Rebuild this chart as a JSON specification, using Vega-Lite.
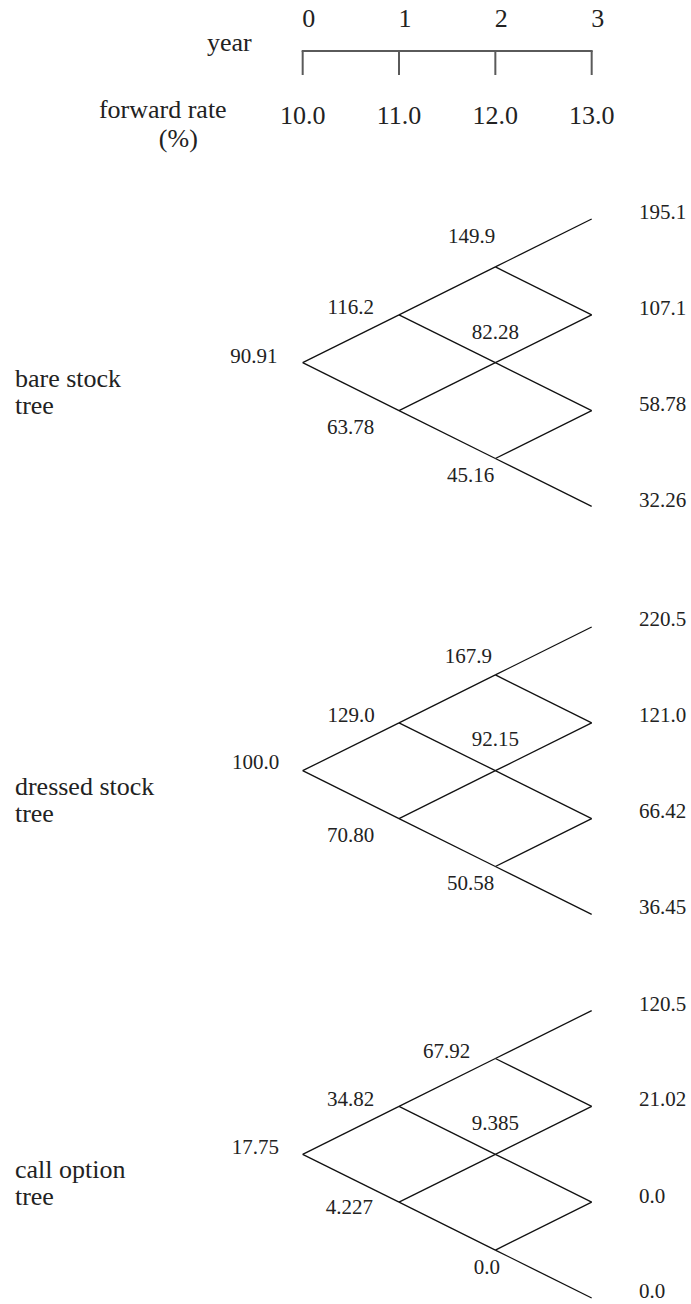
{
  "$schema": "https://vega.github.io/schema/vega-lite/v6.json",
  "padding": 0,
  "spacing": 0,
  "bounds": "flush",
  "background": "white",
  "config": {
    "view": {"stroke": null},
    "text": {"font": "Liberation Serif", "color": "#222222"}
  },
  "datasets": {
    "edges": [
      {"year": 0, "state": 0, "year2": 1, "state2": 1},
      {"year": 0, "state": 0, "year2": 1, "state2": -1},
      {"year": 1, "state": 1, "year2": 2, "state2": 2},
      {"year": 1, "state": 1, "year2": 2, "state2": 0},
      {"year": 1, "state": -1, "year2": 2, "state2": 0},
      {"year": 1, "state": -1, "year2": 2, "state2": -2},
      {"year": 2, "state": 2, "year2": 3, "state2": 3},
      {"year": 2, "state": 2, "year2": 3, "state2": 1},
      {"year": 2, "state": 0, "year2": 3, "state2": 1},
      {"year": 2, "state": 0, "year2": 3, "state2": -1},
      {"year": 2, "state": -2, "year2": 3, "state2": -1},
      {"year": 2, "state": -2, "year2": 3, "state2": -3}
    ],
    "nodes": [
      {"tree": "bare", "year": 0, "state": 0, "value": "90.91", "lx": -0.506, "ly": 0.119},
      {"tree": "bare", "year": 1, "state": 1, "value": "116.2", "lx": 0.498, "ly": 1.136},
      {"tree": "bare", "year": 1, "state": -1, "value": "63.78", "lx": 0.498, "ly": -1.37},
      {"tree": "bare", "year": 2, "state": 2, "value": "149.9", "lx": 1.754, "ly": 2.63},
      {"tree": "bare", "year": 2, "state": 0, "value": "82.28", "lx": 2.0, "ly": 0.626},
      {"tree": "bare", "year": 2, "state": -2, "value": "45.16", "lx": 1.744, "ly": -2.365},
      {"tree": "bare", "year": 3, "state": 3, "value": "195.1", "lx": 3.491, "ly": 3.125},
      {"tree": "bare", "year": 3, "state": 1, "value": "107.1", "lx": 3.491, "ly": 1.121},
      {"tree": "bare", "year": 3, "state": -1, "value": "58.78", "lx": 3.491, "ly": -0.883},
      {"tree": "bare", "year": 3, "state": -3, "value": "32.26", "lx": 3.491, "ly": -2.887},
      {"tree": "dressed", "year": 0, "state": 0, "value": "100.0", "lx": -0.488, "ly": 0.154},
      {"tree": "dressed", "year": 1, "state": 1, "value": "129.0", "lx": 0.503, "ly": 1.142},
      {"tree": "dressed", "year": 1, "state": -1, "value": "70.80", "lx": 0.498, "ly": -1.363},
      {"tree": "dressed", "year": 2, "state": 2, "value": "167.9", "lx": 1.719, "ly": 2.38},
      {"tree": "dressed", "year": 2, "state": 0, "value": "92.15", "lx": 2.0, "ly": 0.641},
      {"tree": "dressed", "year": 2, "state": -2, "value": "50.58", "lx": 1.744, "ly": -2.365},
      {"tree": "dressed", "year": 3, "state": 3, "value": "220.5", "lx": 3.491, "ly": 3.146},
      {"tree": "dressed", "year": 3, "state": 1, "value": "121.0", "lx": 3.491, "ly": 1.142},
      {"tree": "dressed", "year": 3, "state": -1, "value": "66.42", "lx": 3.491, "ly": -0.856},
      {"tree": "dressed", "year": 3, "state": -3, "value": "36.45", "lx": 3.491, "ly": -2.873},
      {"tree": "call", "year": 0, "state": 0, "value": "17.75", "lx": -0.492, "ly": 0.125},
      {"tree": "call", "year": 1, "state": 1, "value": "34.82", "lx": 0.498, "ly": 1.134},
      {"tree": "call", "year": 1, "state": -1, "value": "4.227", "lx": 0.484, "ly": -1.127},
      {"tree": "call", "year": 2, "state": 2, "value": "67.92", "lx": 1.495, "ly": 2.142},
      {"tree": "call", "year": 2, "state": 0, "value": "9.385", "lx": 2.0, "ly": 0.633},
      {"tree": "call", "year": 2, "state": -2, "value": "0.0", "lx": 1.913, "ly": -2.38},
      {"tree": "call", "year": 3, "state": 3, "value": "120.5", "lx": 3.491, "ly": 3.117},
      {"tree": "call", "year": 3, "state": 1, "value": "21.02", "lx": 3.491, "ly": 1.134},
      {"tree": "call", "year": 3, "state": -1, "value": "0.0", "lx": 3.491, "ly": -0.885},
      {"tree": "call", "year": 3, "state": -3, "value": "0.0", "lx": 3.491, "ly": -2.868}
    ],
    "trees": [
      {"tree": "bare", "name": "bare stock\ntree"},
      {"tree": "dressed", "name": "dressed stock\ntree"},
      {"tree": "call", "name": "call option\ntree"}
    ],
    "years": [
      {"year": 0, "rate": "10.0"},
      {"year": 1, "rate": "11.0"},
      {"year": 2, "rate": "12.0"},
      {"year": 3, "rate": "13.0"}
    ]
  },
  "vconcat": [
    {
      "width": 691,
      "height": 160,
      "layer": [
        {
          "data": {"values": [{"from": 0, "to": 3}]},
          "mark": {"type": "rule", "stroke": "#5a5a5a", "strokeWidth": 2, "strokeCap": "square"},
          "encoding": {
            "x": {"field": "from", "type": "quantitative", "scale": {"domain": [-3.142, 4.031], "nice": false, "zero": false}, "axis": null},
            "x2": {"field": "to"},
            "y": {"datum": 5.1, "type": "quantitative", "scale": {"domain": [0, 16], "reverse": true, "nice": false, "zero": false}, "axis": null}
          }
        },
        {
          "data": {"name": "years"},
          "mark": {"type": "rule", "stroke": "#5a5a5a", "strokeWidth": 2},
          "encoding": {
            "x": {"field": "year", "type": "quantitative", "scale": {"domain": [-3.142, 4.031], "nice": false, "zero": false}, "axis": null},
            "y": {"datum": 5.1, "type": "quantitative", "scale": {"domain": [0, 16], "reverse": true, "nice": false, "zero": false}, "axis": null},
            "y2": {"datum": 7.5}
          }
        },
        {
          "data": {"name": "years"},
          "mark": {"type": "text", "fontSize": 26, "align": "center", "baseline": "alphabetic", "dx": 6},
          "encoding": {
            "x": {"field": "year", "type": "quantitative", "scale": {"domain": [-3.142, 4.031], "nice": false, "zero": false}, "axis": null},
            "y": {"datum": 2.7, "type": "quantitative", "scale": {"domain": [0, 16], "reverse": true, "nice": false, "zero": false}, "axis": null},
            "text": {"field": "year", "type": "nominal"}
          }
        },
        {
          "data": {"name": "years"},
          "mark": {"type": "text", "fontSize": 26, "align": "center", "baseline": "alphabetic"},
          "encoding": {
            "x": {"field": "year", "type": "quantitative", "scale": {"domain": [-3.142, 4.031], "nice": false, "zero": false}, "axis": null},
            "y": {"datum": 12.35, "type": "quantitative", "scale": {"domain": [0, 16], "reverse": true, "nice": false, "zero": false}, "axis": null},
            "text": {"field": "rate", "type": "nominal"}
          }
        },
        {
          "data": {"values": [
            {"label": "year", "lx": -0.529, "ly": 5.05},
            {"label": "forward rate", "lx": -0.789, "ly": 11.83}
          ]},
          "mark": {"type": "text", "fontSize": 26, "align": "right", "baseline": "alphabetic"},
          "encoding": {
            "x": {"field": "lx", "type": "quantitative", "scale": {"domain": [-3.142, 4.031], "nice": false, "zero": false}, "axis": null},
            "y": {"field": "ly", "type": "quantitative", "scale": {"domain": [0, 16], "reverse": true, "nice": false, "zero": false}, "axis": null},
            "text": {"field": "label", "type": "nominal"}
          }
        },
        {
          "data": {"values": [{"label": "(%)", "lx": -1.291, "ly": 14.67}]},
          "mark": {"type": "text", "fontSize": 26, "align": "center", "baseline": "alphabetic"},
          "encoding": {
            "x": {"field": "lx", "type": "quantitative", "scale": {"domain": [-3.142, 4.031], "nice": false, "zero": false}, "axis": null},
            "y": {"field": "ly", "type": "quantitative", "scale": {"domain": [0, 16], "reverse": true, "nice": false, "zero": false}, "axis": null},
            "text": {"field": "label", "type": "nominal"}
          }
        }
      ]
    },
    {
      "width": 691,
      "height": 406,
      "layer": [
        {
          "data": {"name": "edges"},
          "mark": {"type": "rule", "stroke": "#111111", "strokeWidth": 1.3},
          "encoding": {
            "x": {"field": "year", "type": "quantitative", "scale": {"domain": [-3.142, 4.031], "nice": false, "zero": false}, "axis": null},
            "y": {"field": "state", "type": "quantitative", "scale": {"domain": [-4.2443, 4.2317], "nice": false, "zero": false}, "axis": null},
            "x2": {"field": "year2"},
            "y2": {"field": "state2"}
          }
        },
        {
          "data": {"name": "nodes"},
          "transform": [{"filter": "datum.tree === 'bare' && datum.year < 3"}],
          "mark": {"type": "text", "fontSize": 21, "align": "center", "baseline": "middle"},
          "encoding": {
            "x": {"field": "lx", "type": "quantitative", "scale": {"domain": [-3.142, 4.031], "nice": false, "zero": false}, "axis": null},
            "y": {"field": "ly", "type": "quantitative", "scale": {"domain": [-4.2443, 4.2317], "nice": false, "zero": false}, "axis": null},
            "text": {"field": "value", "type": "nominal"}
          }
        },
        {
          "data": {"name": "nodes"},
          "transform": [{"filter": "datum.tree === 'bare' && datum.year === 3"}],
          "mark": {"type": "text", "fontSize": 21, "align": "left", "baseline": "middle"},
          "encoding": {
            "x": {"field": "lx", "type": "quantitative", "scale": {"domain": [-3.142, 4.031], "nice": false, "zero": false}, "axis": null},
            "y": {"field": "ly", "type": "quantitative", "scale": {"domain": [-4.2443, 4.2317], "nice": false, "zero": false}, "axis": null},
            "text": {"field": "value", "type": "nominal"}
          }
        },
        {
          "data": {"name": "trees"},
          "transform": [{"filter": "datum.tree === 'bare'"}],
          "mark": {"type": "text", "fontSize": 26, "align": "left", "baseline": "alphabetic", "lineBreak": "\n", "lineHeight": 27},
          "encoding": {
            "x": {"datum": -2.987, "type": "quantitative", "scale": {"domain": [-3.142, 4.031], "nice": false, "zero": false}, "axis": null},
            "y": {"datum": -0.501, "type": "quantitative", "scale": {"domain": [-4.2443, 4.2317], "nice": false, "zero": false}, "axis": null},
            "text": {"field": "name", "type": "nominal"}
          }
        }
      ]
    },
    {
      "width": 691,
      "height": 396,
      "layer": [
        {
          "data": {"name": "edges"},
          "mark": {"type": "rule", "stroke": "#111111", "strokeWidth": 1.3},
          "encoding": {
            "x": {"field": "year", "type": "quantitative", "scale": {"domain": [-3.142, 4.031], "nice": false, "zero": false}, "axis": null},
            "y": {"field": "state", "type": "quantitative", "scale": {"domain": [-3.9937, 4.2735], "nice": false, "zero": false}, "axis": null},
            "x2": {"field": "year2"},
            "y2": {"field": "state2"}
          }
        },
        {
          "data": {"name": "nodes"},
          "transform": [{"filter": "datum.tree === 'dressed' && datum.year < 3"}],
          "mark": {"type": "text", "fontSize": 21, "align": "center", "baseline": "middle"},
          "encoding": {
            "x": {"field": "lx", "type": "quantitative", "scale": {"domain": [-3.142, 4.031], "nice": false, "zero": false}, "axis": null},
            "y": {"field": "ly", "type": "quantitative", "scale": {"domain": [-3.9937, 4.2735], "nice": false, "zero": false}, "axis": null},
            "text": {"field": "value", "type": "nominal"}
          }
        },
        {
          "data": {"name": "nodes"},
          "transform": [{"filter": "datum.tree === 'dressed' && datum.year === 3"}],
          "mark": {"type": "text", "fontSize": 21, "align": "left", "baseline": "middle"},
          "encoding": {
            "x": {"field": "lx", "type": "quantitative", "scale": {"domain": [-3.142, 4.031], "nice": false, "zero": false}, "axis": null},
            "y": {"field": "ly", "type": "quantitative", "scale": {"domain": [-3.9937, 4.2735], "nice": false, "zero": false}, "axis": null},
            "text": {"field": "value", "type": "nominal"}
          }
        },
        {
          "data": {"name": "trees"},
          "transform": [{"filter": "datum.tree === 'dressed'"}],
          "mark": {"type": "text", "fontSize": 26, "align": "left", "baseline": "alphabetic", "lineBreak": "\n", "lineHeight": 27},
          "encoding": {
            "x": {"datum": -2.987, "type": "quantitative", "scale": {"domain": [-3.142, 4.031], "nice": false, "zero": false}, "axis": null},
            "y": {"datum": -0.501, "type": "quantitative", "scale": {"domain": [-3.9937, 4.2735], "nice": false, "zero": false}, "axis": null},
            "text": {"field": "name", "type": "nominal"}
          }
        }
      ]
    },
    {
      "width": 691,
      "height": 342,
      "layer": [
        {
          "data": {"name": "edges"},
          "mark": {"type": "rule", "stroke": "#111111", "strokeWidth": 1.3},
          "encoding": {
            "x": {"field": "year", "type": "quantitative", "scale": {"domain": [-3.142, 4.031], "nice": false, "zero": false}, "axis": null},
            "y": {"field": "state", "type": "quantitative", "scale": {"domain": [-3.1253, 4.0146], "nice": false, "zero": false}, "axis": null},
            "x2": {"field": "year2"},
            "y2": {"field": "state2"}
          }
        },
        {
          "data": {"name": "nodes"},
          "transform": [{"filter": "datum.tree === 'call' && datum.year < 3"}],
          "mark": {"type": "text", "fontSize": 21, "align": "center", "baseline": "middle"},
          "encoding": {
            "x": {"field": "lx", "type": "quantitative", "scale": {"domain": [-3.142, 4.031], "nice": false, "zero": false}, "axis": null},
            "y": {"field": "ly", "type": "quantitative", "scale": {"domain": [-3.1253, 4.0146], "nice": false, "zero": false}, "axis": null},
            "text": {"field": "value", "type": "nominal"}
          }
        },
        {
          "data": {"name": "nodes"},
          "transform": [{"filter": "datum.tree === 'call' && datum.year === 3"}],
          "mark": {"type": "text", "fontSize": 21, "align": "left", "baseline": "middle"},
          "encoding": {
            "x": {"field": "lx", "type": "quantitative", "scale": {"domain": [-3.142, 4.031], "nice": false, "zero": false}, "axis": null},
            "y": {"field": "ly", "type": "quantitative", "scale": {"domain": [-3.1253, 4.0146], "nice": false, "zero": false}, "axis": null},
            "text": {"field": "value", "type": "nominal"}
          }
        },
        {
          "data": {"name": "trees"},
          "transform": [{"filter": "datum.tree === 'call'"}],
          "mark": {"type": "text", "fontSize": 26, "align": "left", "baseline": "alphabetic", "lineBreak": "\n", "lineHeight": 27},
          "encoding": {
            "x": {"datum": -2.987, "type": "quantitative", "scale": {"domain": [-3.142, 4.031], "nice": false, "zero": false}, "axis": null},
            "y": {"datum": -0.501, "type": "quantitative", "scale": {"domain": [-3.1253, 4.0146], "nice": false, "zero": false}, "axis": null},
            "text": {"field": "name", "type": "nominal"}
          }
        }
      ]
    }
  ]
}
